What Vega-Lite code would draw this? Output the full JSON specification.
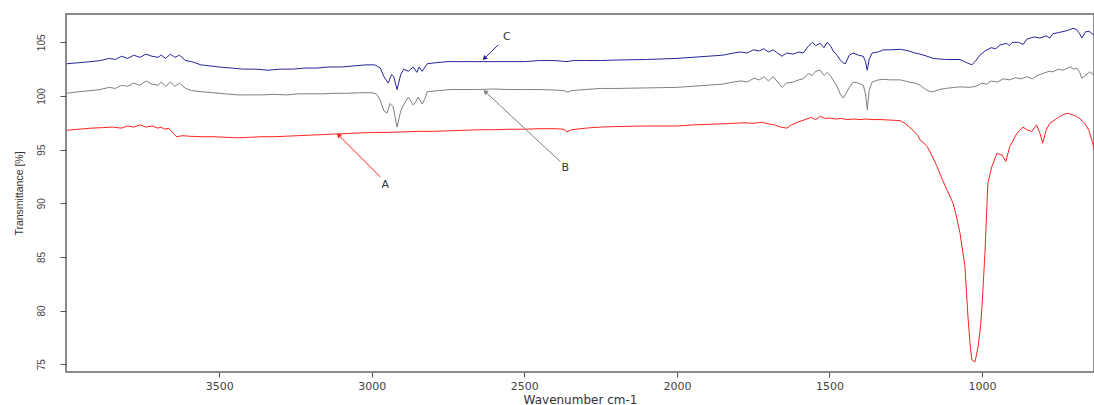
{
  "$schema": "https://vega.github.io/schema/vega-lite/v6.json",
  "width": 1028,
  "height": 358,
  "autosize": {"type": "none"},
  "padding": {"left": 66, "top": 14, "right": 0, "bottom": 33},
  "config": {
    "font": "Liberation Sans",
    "view": {"stroke": "#666666", "strokeWidth": 1.5},
    "axis": {"domain": false, "grid": false, "tickColor": "#555555", "labelColor": "#444444", "titleColor": "#333333", "labelFontSize": 10, "titleFontSize": 10, "titleFontWeight": "normal"}
  },
  "datasets": {
    "spec": [
      {"wn":4000,"t":103.0,"s":"C"},{"wn":3960,"t":103.1,"s":"C"},{"wn":3920,"t":103.2,"s":"C"},{"wn":3890,"t":103.3,"s":"C"},{"wn":3860,"t":103.5,"s":"C"},{"wn":3840,"t":103.4,"s":"C"},{"wn":3820,"t":103.7,"s":"C"},{"wn":3800,"t":103.5,"s":"C"},{"wn":3780,"t":103.8,"s":"C"},{"wn":3760,"t":103.6,"s":"C"},{"wn":3740,"t":103.9,"s":"C"},{"wn":3720,"t":103.7,"s":"C"},{"wn":3700,"t":103.6,"s":"C"},{"wn":3690,"t":103.8,"s":"C"},{"wn":3675,"t":103.5,"s":"C"},{"wn":3660,"t":103.9,"s":"C"},{"wn":3645,"t":103.6,"s":"C"},{"wn":3630,"t":103.8,"s":"C"},{"wn":3610,"t":103.3,"s":"C"},{"wn":3590,"t":103.2,"s":"C"},{"wn":3560,"t":102.9,"s":"C"},{"wn":3530,"t":102.8,"s":"C"},{"wn":3500,"t":102.7,"s":"C"},{"wn":3460,"t":102.6,"s":"C"},{"wn":3420,"t":102.5,"s":"C"},{"wn":3380,"t":102.5,"s":"C"},{"wn":3340,"t":102.4,"s":"C"},{"wn":3300,"t":102.5,"s":"C"},{"wn":3260,"t":102.5,"s":"C"},{"wn":3220,"t":102.6,"s":"C"},{"wn":3180,"t":102.6,"s":"C"},{"wn":3140,"t":102.7,"s":"C"},{"wn":3100,"t":102.7,"s":"C"},{"wn":3060,"t":102.8,"s":"C"},{"wn":3020,"t":102.9,"s":"C"},{"wn":2990,"t":102.9,"s":"C"},{"wn":2972,"t":102.6,"s":"C"},{"wn":2960,"t":101.8,"s":"C"},{"wn":2946,"t":101.2,"s":"C"},{"wn":2935,"t":102.0,"s":"C"},{"wn":2928,"t":101.8,"s":"C"},{"wn":2917,"t":100.6,"s":"C"},{"wn":2905,"t":102.0,"s":"C"},{"wn":2895,"t":102.5,"s":"C"},{"wn":2880,"t":102.3,"s":"C"},{"wn":2864,"t":102.7,"s":"C"},{"wn":2852,"t":102.2,"s":"C"},{"wn":2845,"t":102.7,"s":"C"},{"wn":2835,"t":102.3,"s":"C"},{"wn":2818,"t":103.0,"s":"C"},{"wn":2790,"t":103.1,"s":"C"},{"wn":2750,"t":103.2,"s":"C"},{"wn":2700,"t":103.2,"s":"C"},{"wn":2650,"t":103.2,"s":"C"},{"wn":2600,"t":103.2,"s":"C"},{"wn":2550,"t":103.2,"s":"C"},{"wn":2500,"t":103.2,"s":"C"},{"wn":2450,"t":103.3,"s":"C"},{"wn":2400,"t":103.3,"s":"C"},{"wn":2360,"t":103.2,"s":"C"},{"wn":2340,"t":103.3,"s":"C"},{"wn":2300,"t":103.3,"s":"C"},{"wn":2250,"t":103.3,"s":"C"},{"wn":2200,"t":103.35,"s":"C"},{"wn":2100,"t":103.4,"s":"C"},{"wn":2000,"t":103.5,"s":"C"},{"wn":1950,"t":103.6,"s":"C"},{"wn":1900,"t":103.7,"s":"C"},{"wn":1850,"t":103.8,"s":"C"},{"wn":1815,"t":104.0,"s":"C"},{"wn":1790,"t":104.1,"s":"C"},{"wn":1770,"t":104.0,"s":"C"},{"wn":1750,"t":104.3,"s":"C"},{"wn":1730,"t":104.2,"s":"C"},{"wn":1715,"t":104.4,"s":"C"},{"wn":1700,"t":104.1,"s":"C"},{"wn":1684,"t":104.3,"s":"C"},{"wn":1670,"t":104.0,"s":"C"},{"wn":1655,"t":103.7,"s":"C"},{"wn":1640,"t":104.0,"s":"C"},{"wn":1619,"t":103.9,"s":"C"},{"wn":1600,"t":104.1,"s":"C"},{"wn":1586,"t":104.0,"s":"C"},{"wn":1570,"t":104.6,"s":"C"},{"wn":1556,"t":105.0,"s":"C"},{"wn":1545,"t":104.7,"s":"C"},{"wn":1530,"t":104.9,"s":"C"},{"wn":1518,"t":104.5,"s":"C"},{"wn":1507,"t":105.0,"s":"C"},{"wn":1495,"t":104.6,"s":"C"},{"wn":1488,"t":104.2,"s":"C"},{"wn":1475,"t":103.8,"s":"C"},{"wn":1465,"t":103.35,"s":"C"},{"wn":1455,"t":103.1,"s":"C"},{"wn":1448,"t":103.0,"s":"C"},{"wn":1435,"t":103.8,"s":"C"},{"wn":1422,"t":104.0,"s":"C"},{"wn":1405,"t":103.8,"s":"C"},{"wn":1389,"t":103.7,"s":"C"},{"wn":1382,"t":103.2,"s":"C"},{"wn":1376,"t":102.4,"s":"C"},{"wn":1370,"t":103.4,"s":"C"},{"wn":1360,"t":104.0,"s":"C"},{"wn":1340,"t":104.1,"s":"C"},{"wn":1324,"t":104.3,"s":"C"},{"wn":1300,"t":104.3,"s":"C"},{"wn":1268,"t":104.35,"s":"C"},{"wn":1240,"t":104.2,"s":"C"},{"wn":1220,"t":104.0,"s":"C"},{"wn":1203,"t":103.9,"s":"C"},{"wn":1180,"t":103.7,"s":"C"},{"wn":1160,"t":103.5,"s":"C"},{"wn":1120,"t":103.4,"s":"C"},{"wn":1072,"t":103.4,"s":"C"},{"wn":1050,"t":103.1,"s":"C"},{"wn":1033,"t":102.9,"s":"C"},{"wn":1020,"t":103.3,"s":"C"},{"wn":1007,"t":103.8,"s":"C"},{"wn":990,"t":104.2,"s":"C"},{"wn":970,"t":104.5,"s":"C"},{"wn":955,"t":104.4,"s":"C"},{"wn":941,"t":104.75,"s":"C"},{"wn":920,"t":104.9,"s":"C"},{"wn":910,"t":104.7,"s":"C"},{"wn":900,"t":105.0,"s":"C"},{"wn":880,"t":105.0,"s":"C"},{"wn":865,"t":104.8,"s":"C"},{"wn":853,"t":105.3,"s":"C"},{"wn":830,"t":105.5,"s":"C"},{"wn":810,"t":105.4,"s":"C"},{"wn":790,"t":105.6,"s":"C"},{"wn":778,"t":105.4,"s":"C"},{"wn":768,"t":105.8,"s":"C"},{"wn":750,"t":105.9,"s":"C"},{"wn":735,"t":106.0,"s":"C"},{"wn":720,"t":106.1,"s":"C"},{"wn":702,"t":106.3,"s":"C"},{"wn":690,"t":106.2,"s":"C"},{"wn":680,"t":105.8,"s":"C"},{"wn":673,"t":105.4,"s":"C"},{"wn":660,"t":106.0,"s":"C"},{"wn":647,"t":106.0,"s":"C"},{"wn":635,"t":105.7,"s":"C"},

      {"wn":4000,"t":100.25,"s":"B"},{"wn":3960,"t":100.4,"s":"B"},{"wn":3920,"t":100.5,"s":"B"},{"wn":3890,"t":100.6,"s":"B"},{"wn":3860,"t":100.8,"s":"B"},{"wn":3840,"t":100.7,"s":"B"},{"wn":3820,"t":101.0,"s":"B"},{"wn":3800,"t":100.9,"s":"B"},{"wn":3780,"t":101.2,"s":"B"},{"wn":3760,"t":101.0,"s":"B"},{"wn":3740,"t":101.4,"s":"B"},{"wn":3720,"t":101.1,"s":"B"},{"wn":3700,"t":101.0,"s":"B"},{"wn":3690,"t":101.3,"s":"B"},{"wn":3675,"t":100.9,"s":"B"},{"wn":3660,"t":101.3,"s":"B"},{"wn":3645,"t":100.9,"s":"B"},{"wn":3630,"t":101.2,"s":"B"},{"wn":3610,"t":100.7,"s":"B"},{"wn":3590,"t":100.5,"s":"B"},{"wn":3560,"t":100.4,"s":"B"},{"wn":3520,"t":100.3,"s":"B"},{"wn":3480,"t":100.2,"s":"B"},{"wn":3440,"t":100.1,"s":"B"},{"wn":3400,"t":100.1,"s":"B"},{"wn":3360,"t":100.1,"s":"B"},{"wn":3320,"t":100.15,"s":"B"},{"wn":3280,"t":100.1,"s":"B"},{"wn":3240,"t":100.2,"s":"B"},{"wn":3200,"t":100.2,"s":"B"},{"wn":3160,"t":100.2,"s":"B"},{"wn":3120,"t":100.25,"s":"B"},{"wn":3080,"t":100.25,"s":"B"},{"wn":3040,"t":100.3,"s":"B"},{"wn":3000,"t":100.3,"s":"B"},{"wn":2985,"t":100.2,"s":"B"},{"wn":2972,"t":99.6,"s":"B"},{"wn":2960,"t":98.6,"s":"B"},{"wn":2950,"t":98.4,"s":"B"},{"wn":2940,"t":99.3,"s":"B"},{"wn":2930,"t":99.0,"s":"B"},{"wn":2917,"t":97.1,"s":"B"},{"wn":2905,"t":98.6,"s":"B"},{"wn":2895,"t":99.2,"s":"B"},{"wn":2880,"t":99.9,"s":"B"},{"wn":2864,"t":99.15,"s":"B"},{"wn":2855,"t":99.5,"s":"B"},{"wn":2848,"t":99.9,"s":"B"},{"wn":2835,"t":99.25,"s":"B"},{"wn":2825,"t":99.8,"s":"B"},{"wn":2818,"t":100.4,"s":"B"},{"wn":2780,"t":100.5,"s":"B"},{"wn":2740,"t":100.6,"s":"B"},{"wn":2700,"t":100.6,"s":"B"},{"wn":2650,"t":100.6,"s":"B"},{"wn":2600,"t":100.65,"s":"B"},{"wn":2550,"t":100.6,"s":"B"},{"wn":2500,"t":100.6,"s":"B"},{"wn":2450,"t":100.6,"s":"B"},{"wn":2400,"t":100.55,"s":"B"},{"wn":2370,"t":100.5,"s":"B"},{"wn":2360,"t":100.35,"s":"B"},{"wn":2345,"t":100.5,"s":"B"},{"wn":2300,"t":100.6,"s":"B"},{"wn":2250,"t":100.7,"s":"B"},{"wn":2200,"t":100.7,"s":"B"},{"wn":2100,"t":100.75,"s":"B"},{"wn":2000,"t":100.8,"s":"B"},{"wn":1950,"t":100.9,"s":"B"},{"wn":1900,"t":101.0,"s":"B"},{"wn":1850,"t":101.1,"s":"B"},{"wn":1815,"t":101.3,"s":"B"},{"wn":1790,"t":101.4,"s":"B"},{"wn":1770,"t":101.3,"s":"B"},{"wn":1747,"t":101.65,"s":"B"},{"wn":1730,"t":101.5,"s":"B"},{"wn":1715,"t":101.8,"s":"B"},{"wn":1700,"t":101.4,"s":"B"},{"wn":1684,"t":101.8,"s":"B"},{"wn":1670,"t":101.3,"s":"B"},{"wn":1655,"t":100.8,"s":"B"},{"wn":1640,"t":101.2,"s":"B"},{"wn":1619,"t":101.3,"s":"B"},{"wn":1600,"t":101.5,"s":"B"},{"wn":1586,"t":101.6,"s":"B"},{"wn":1570,"t":102.1,"s":"B"},{"wn":1556,"t":101.9,"s":"B"},{"wn":1545,"t":102.3,"s":"B"},{"wn":1530,"t":102.4,"s":"B"},{"wn":1518,"t":101.9,"s":"B"},{"wn":1507,"t":102.2,"s":"B"},{"wn":1495,"t":101.8,"s":"B"},{"wn":1488,"t":101.5,"s":"B"},{"wn":1475,"t":100.9,"s":"B"},{"wn":1465,"t":100.2,"s":"B"},{"wn":1455,"t":99.8,"s":"B"},{"wn":1448,"t":100.1,"s":"B"},{"wn":1435,"t":100.8,"s":"B"},{"wn":1422,"t":101.3,"s":"B"},{"wn":1405,"t":101.2,"s":"B"},{"wn":1389,"t":101.0,"s":"B"},{"wn":1382,"t":100.2,"s":"B"},{"wn":1376,"t":98.7,"s":"B"},{"wn":1370,"t":100.5,"s":"B"},{"wn":1360,"t":101.3,"s":"B"},{"wn":1340,"t":101.5,"s":"B"},{"wn":1324,"t":101.55,"s":"B"},{"wn":1300,"t":101.5,"s":"B"},{"wn":1268,"t":101.5,"s":"B"},{"wn":1240,"t":101.3,"s":"B"},{"wn":1220,"t":101.2,"s":"B"},{"wn":1203,"t":101.0,"s":"B"},{"wn":1185,"t":100.6,"s":"B"},{"wn":1170,"t":100.4,"s":"B"},{"wn":1160,"t":100.4,"s":"B"},{"wn":1140,"t":100.6,"s":"B"},{"wn":1120,"t":100.7,"s":"B"},{"wn":1090,"t":100.8,"s":"B"},{"wn":1072,"t":100.85,"s":"B"},{"wn":1040,"t":100.8,"s":"B"},{"wn":1020,"t":100.9,"s":"B"},{"wn":1000,"t":101.2,"s":"B"},{"wn":985,"t":101.1,"s":"B"},{"wn":970,"t":101.4,"s":"B"},{"wn":950,"t":101.3,"s":"B"},{"wn":930,"t":101.6,"s":"B"},{"wn":910,"t":101.5,"s":"B"},{"wn":890,"t":101.7,"s":"B"},{"wn":870,"t":101.6,"s":"B"},{"wn":853,"t":101.8,"s":"B"},{"wn":835,"t":101.6,"s":"B"},{"wn":820,"t":101.9,"s":"B"},{"wn":800,"t":102.1,"s":"B"},{"wn":780,"t":102.3,"s":"B"},{"wn":768,"t":102.25,"s":"B"},{"wn":750,"t":102.5,"s":"B"},{"wn":735,"t":102.4,"s":"B"},{"wn":720,"t":102.6,"s":"B"},{"wn":710,"t":102.7,"s":"B"},{"wn":700,"t":102.5,"s":"B"},{"wn":690,"t":102.6,"s":"B"},{"wn":680,"t":102.2,"s":"B"},{"wn":673,"t":101.65,"s":"B"},{"wn":662,"t":101.9,"s":"B"},{"wn":647,"t":102.25,"s":"B"},{"wn":635,"t":102.0,"s":"B"},

      {"wn":4000,"t":96.8,"s":"A"},{"wn":3960,"t":96.9,"s":"A"},{"wn":3920,"t":97.0,"s":"A"},{"wn":3880,"t":97.05,"s":"A"},{"wn":3850,"t":97.1,"s":"A"},{"wn":3820,"t":97.0,"s":"A"},{"wn":3800,"t":97.2,"s":"A"},{"wn":3780,"t":97.1,"s":"A"},{"wn":3760,"t":97.3,"s":"A"},{"wn":3740,"t":97.1,"s":"A"},{"wn":3720,"t":97.2,"s":"A"},{"wn":3700,"t":97.0,"s":"A"},{"wn":3690,"t":97.1,"s":"A"},{"wn":3680,"t":96.9,"s":"A"},{"wn":3665,"t":97.0,"s":"A"},{"wn":3650,"t":96.5,"s":"A"},{"wn":3640,"t":96.2,"s":"A"},{"wn":3620,"t":96.3,"s":"A"},{"wn":3600,"t":96.25,"s":"A"},{"wn":3560,"t":96.2,"s":"A"},{"wn":3520,"t":96.2,"s":"A"},{"wn":3480,"t":96.15,"s":"A"},{"wn":3440,"t":96.1,"s":"A"},{"wn":3400,"t":96.15,"s":"A"},{"wn":3360,"t":96.2,"s":"A"},{"wn":3320,"t":96.2,"s":"A"},{"wn":3280,"t":96.25,"s":"A"},{"wn":3240,"t":96.3,"s":"A"},{"wn":3200,"t":96.35,"s":"A"},{"wn":3160,"t":96.4,"s":"A"},{"wn":3120,"t":96.45,"s":"A"},{"wn":3080,"t":96.5,"s":"A"},{"wn":3040,"t":96.55,"s":"A"},{"wn":3000,"t":96.6,"s":"A"},{"wn":2950,"t":96.6,"s":"A"},{"wn":2900,"t":96.65,"s":"A"},{"wn":2850,"t":96.7,"s":"A"},{"wn":2800,"t":96.7,"s":"A"},{"wn":2750,"t":96.75,"s":"A"},{"wn":2700,"t":96.8,"s":"A"},{"wn":2650,"t":96.85,"s":"A"},{"wn":2600,"t":96.85,"s":"A"},{"wn":2550,"t":96.9,"s":"A"},{"wn":2500,"t":96.9,"s":"A"},{"wn":2450,"t":96.95,"s":"A"},{"wn":2400,"t":96.95,"s":"A"},{"wn":2370,"t":96.9,"s":"A"},{"wn":2360,"t":96.65,"s":"A"},{"wn":2345,"t":96.85,"s":"A"},{"wn":2300,"t":97.0,"s":"A"},{"wn":2250,"t":97.1,"s":"A"},{"wn":2200,"t":97.15,"s":"A"},{"wn":2100,"t":97.2,"s":"A"},{"wn":2000,"t":97.2,"s":"A"},{"wn":1950,"t":97.3,"s":"A"},{"wn":1900,"t":97.35,"s":"A"},{"wn":1850,"t":97.4,"s":"A"},{"wn":1815,"t":97.45,"s":"A"},{"wn":1780,"t":97.5,"s":"A"},{"wn":1750,"t":97.45,"s":"A"},{"wn":1720,"t":97.55,"s":"A"},{"wn":1700,"t":97.4,"s":"A"},{"wn":1680,"t":97.3,"s":"A"},{"wn":1660,"t":97.1,"s":"A"},{"wn":1640,"t":97.0,"s":"A"},{"wn":1625,"t":97.3,"s":"A"},{"wn":1600,"t":97.6,"s":"A"},{"wn":1580,"t":97.8,"s":"A"},{"wn":1560,"t":98.0,"s":"A"},{"wn":1545,"t":97.8,"s":"A"},{"wn":1530,"t":98.1,"s":"A"},{"wn":1515,"t":97.9,"s":"A"},{"wn":1500,"t":97.95,"s":"A"},{"wn":1480,"t":97.85,"s":"A"},{"wn":1460,"t":97.9,"s":"A"},{"wn":1440,"t":97.8,"s":"A"},{"wn":1420,"t":97.85,"s":"A"},{"wn":1400,"t":97.8,"s":"A"},{"wn":1380,"t":97.85,"s":"A"},{"wn":1360,"t":97.8,"s":"A"},{"wn":1334,"t":97.8,"s":"A"},{"wn":1300,"t":97.75,"s":"A"},{"wn":1268,"t":97.7,"s":"A"},{"wn":1250,"t":97.4,"s":"A"},{"wn":1226,"t":96.8,"s":"A"},{"wn":1210,"t":96.3,"s":"A"},{"wn":1203,"t":95.9,"s":"A"},{"wn":1190,"t":95.6,"s":"A"},{"wn":1180,"t":95.3,"s":"A"},{"wn":1165,"t":94.5,"s":"A"},{"wn":1147,"t":93.4,"s":"A"},{"wn":1130,"t":92.2,"s":"A"},{"wn":1114,"t":91.2,"s":"A"},{"wn":1095,"t":90.0,"s":"A"},{"wn":1085,"t":88.9,"s":"A"},{"wn":1072,"t":87.2,"s":"A"},{"wn":1056,"t":84.1,"s":"A"},{"wn":1046,"t":79.4,"s":"A"},{"wn":1038,"t":76.5,"s":"A"},{"wn":1033,"t":75.4,"s":"A"},{"wn":1023,"t":75.2,"s":"A"},{"wn":1013,"t":76.6,"s":"A"},{"wn":1005,"t":78.5,"s":"A"},{"wn":1000,"t":80.35,"s":"A"},{"wn":990,"t":85.6,"s":"A"},{"wn":981,"t":91.85,"s":"A"},{"wn":968,"t":93.4,"s":"A"},{"wn":951,"t":94.65,"s":"A"},{"wn":935,"t":94.5,"s":"A"},{"wn":922,"t":93.9,"s":"A"},{"wn":909,"t":95.3,"s":"A"},{"wn":886,"t":96.5,"s":"A"},{"wn":866,"t":97.1,"s":"A"},{"wn":850,"t":96.8,"s":"A"},{"wn":837,"t":96.7,"s":"A"},{"wn":821,"t":97.3,"s":"A"},{"wn":810,"t":96.5,"s":"A"},{"wn":801,"t":95.6,"s":"A"},{"wn":790,"t":96.8,"s":"A"},{"wn":778,"t":97.45,"s":"A"},{"wn":760,"t":97.8,"s":"A"},{"wn":745,"t":98.1,"s":"A"},{"wn":730,"t":98.3,"s":"A"},{"wn":719,"t":98.4,"s":"A"},{"wn":700,"t":98.2,"s":"A"},{"wn":690,"t":98.1,"s":"A"},{"wn":680,"t":97.9,"s":"A"},{"wn":663,"t":97.45,"s":"A"},{"wn":650,"t":96.8,"s":"A"},{"wn":637,"t":95.6,"s":"A"},{"wn":633,"t":95.0,"s":"A"}
    ],
    "notes": [
      {"s":"C","lx":2557,"ly":105.5,"x1":2586,"y1":104.75,"x2":2631,"y2":103.5},
      {"s":"B","lx":2366,"ly":93.26,"x1":2382,"y1":93.87,"x2":2628,"y2":100.4},
      {"s":"A","lx":2956,"ly":91.7,"x1":2972,"y1":92.45,"x2":3109,"y2":96.36}
    ]
  },
  "layer": [
    {
      "data": {"name": "spec"},
      "mark": {"type": "line", "strokeWidth": 1, "clip": true},
      "encoding": {
        "x": {"field": "wn", "type": "quantitative", "scale": {"domain": [4002, 633], "nice": false, "zero": false},
              "axis": {"values": [3500, 3000, 2500, 2000, 1500, 1000], "format": "d", "title": "Wavenumber cm-1", "tickSize": 5, "labelPadding": 3, "titlePadding": 3, "labelFont": "DejaVu Sans", "labelFontSize": 11, "titleFont": "DejaVu Sans", "titleFontSize": 12}},
        "y": {"field": "t", "type": "quantitative", "scale": {"domain": [74.27, 107.64], "nice": false, "zero": false},
              "axis": {"values": [75, 80, 85, 90, 95, 100, 105], "format": "d", "title": "Transmittance [%]", "tickSize": 6, "labelAngle": -90, "labelAlign": "center", "labelBaseline": "bottom", "labelPadding": 14, "labelFontSize": 10, "titlePadding": 12, "titleFontSize": 10.5}},
        "color": {"field": "s", "type": "nominal", "scale": {"domain": ["A", "B", "C"], "range": ["#ff1f1f", "#808080", "#24249a"]}, "legend": null},
        "detail": {"field": "s"}
      }
    },
    {
      "data": {"name": "notes"},
      "mark": {"type": "rule", "strokeWidth": 1},
      "encoding": {
        "x": {"field": "x1", "type": "quantitative"},
        "y": {"field": "y1", "type": "quantitative"},
        "x2": {"field": "x2"},
        "y2": {"field": "y2"},
        "color": {"field": "s", "type": "nominal", "legend": null}
      }
    },
    {
      "data": {"name": "notes"},
      "transform": [{"filter": "datum.s === 'C'"}],
      "mark": {"type": "point", "shape": "triangle-up", "filled": true, "size": 28, "angle": 226, "opacity": 1},
      "encoding": {
        "x": {"field": "x2", "type": "quantitative"},
        "y": {"field": "y2", "type": "quantitative"},
        "color": {"field": "s", "type": "nominal", "legend": null}
      }
    },
    {
      "data": {"name": "notes"},
      "transform": [{"filter": "datum.s === 'B'"}],
      "mark": {"type": "point", "shape": "triangle-up", "filled": true, "size": 28, "angle": 313, "opacity": 1},
      "encoding": {
        "x": {"field": "x2", "type": "quantitative"},
        "y": {"field": "y2", "type": "quantitative"},
        "color": {"field": "s", "type": "nominal", "legend": null}
      }
    },
    {
      "data": {"name": "notes"},
      "transform": [{"filter": "datum.s === 'A'"}],
      "mark": {"type": "point", "shape": "triangle-up", "filled": true, "size": 28, "angle": 315, "opacity": 1},
      "encoding": {
        "x": {"field": "x2", "type": "quantitative"},
        "y": {"field": "y2", "type": "quantitative"},
        "color": {"field": "s", "type": "nominal", "legend": null}
      }
    },
    {
      "data": {"name": "notes"},
      "mark": {"type": "text", "font": "DejaVu Sans", "fontSize": 11, "color": "#333333", "align": "center", "baseline": "middle"},
      "encoding": {
        "x": {"field": "lx", "type": "quantitative"},
        "y": {"field": "ly", "type": "quantitative"},
        "text": {"field": "s"}
      }
    }
  ]
}
